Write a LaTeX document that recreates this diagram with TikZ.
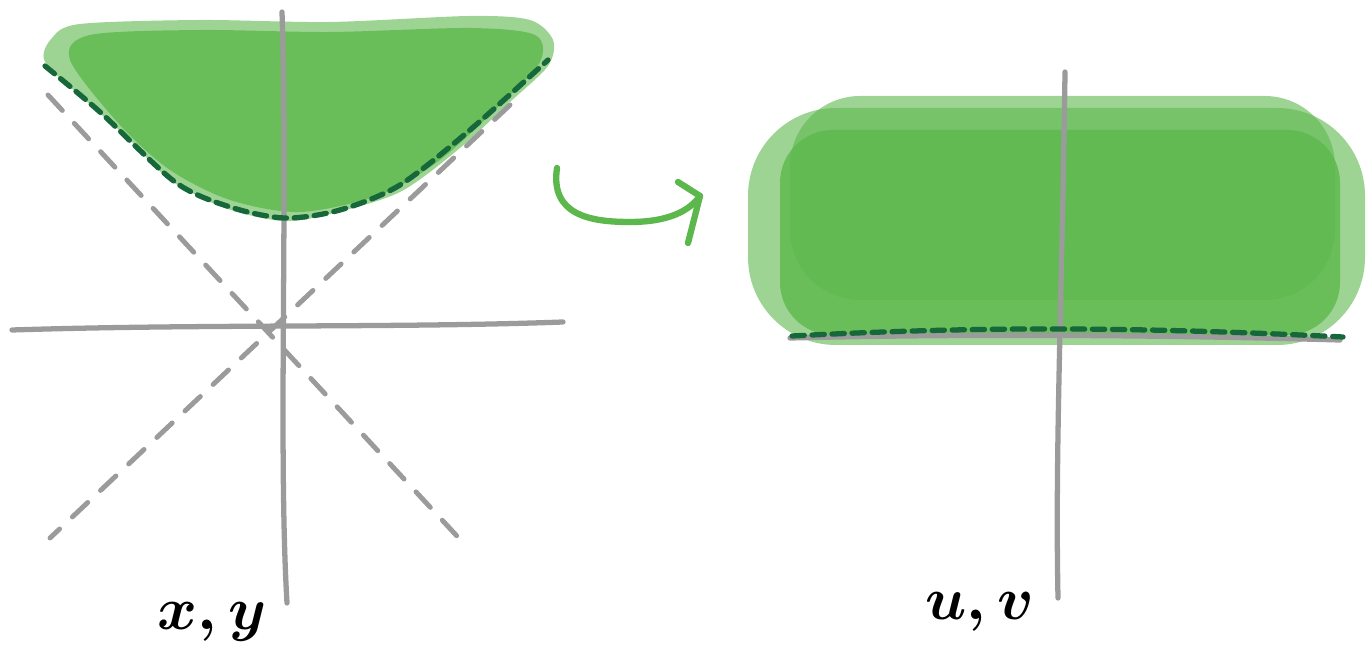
\documentclass[tikz,border=0pt]{standalone}
\usepackage{tikz}
\usetikzlibrary{arrows.meta,positioning,calc}
\definecolor{sleaf}{HTML}{5CB84C}
\definecolor{sdeep}{HTML}{16673A}
\definecolor{sgray}{HTML}{9B9B9B}
\tikzset{
  axis/.style={draw=sgray,line width=1.5pt,line cap=round},
  asym/.style={draw=sgray,line width=1.4pt,line cap=round,dash pattern=on 6pt off 5pt},
  bound/.style={draw=sdeep,line width=1.5pt,line cap=round,dash pattern=on 3.5pt off 2.2pt},
  wash/.style={fill=sleaf,fill opacity=0.6},
  core/.style={fill=sleaf,fill opacity=0.8},
  swoop/.style={draw=sleaf,line width=1.8pt,line cap=round,line join=round},
  hand/.style={font=\fontsize{19}{22}\selectfont\boldmath,text=black,inner sep=0pt},
}
\begin{document}
\begin{tikzpicture}[x=0.1mm,y=-0.1mm]
  \useasboundingbox (0,0) rectangle (1367,670);
  % left: region above the hyperbola
  \fill[wash] plot[smooth cycle] coordinates {(45,62) (52,38) (80,24) (200,20) (330,22) (470,16) (530,20) (553,40) (548,66) (510,102) (460,148) (400,192) (330,214) (283,221) (225,208) (170,180) (130,140) (85,100)};
  \fill[core] plot[smooth cycle] coordinates {(70,60) (90,35) (200,30) (330,32) (470,28) (535,35) (540,62) (500,105) (440,160) (380,195) (300,212) (230,200) (170,170) (120,125)};
  % asymptotes
  \draw[asym] (48,95) -- (468,548);
  \draw[asym] (510,105) -- (50,538);
  % axes
  \draw[axis] (12,330) .. controls (200,324) and (400,328) .. (563,322);
  \draw[axis] (282,12) .. controls (288,200) and (278,450) .. (287,603);
  \draw[bound] plot[smooth] coordinates {(45,66) (100,112) (175,182) (230,207) (285,218) (340,210) (400,185) (470,130) (548,60)};
  % arrow
  \coordinate (arrS) at (557,168);
  \coordinate (arrE) at (700,196);
  \draw[swoop] (arrS) .. controls (550,215) and (590,222) .. (630,222) .. controls (670,222) and (690,210) .. (arrE);
  \draw[swoop] (678,182) -- (arrE) -- (688,243);
  % right: the strip
  \fill[wash,rounded corners=25pt] (748,108) rectangle (1365,345);
  \fill[wash,rounded corners=20pt] (790,96) rectangle (1335,300);
  \fill[core,rounded corners=15pt] (780,130) rectangle (1340,335);
  \draw[axis] (790,338) .. controls (1000,333) and (1200,336) .. (1340,340);
  \draw[axis] (1065,72) .. controls (1062,300) and (1055,450) .. (1058,598);
  \draw[bound] (792,336) .. controls (950,328) and (1100,325) .. (1343,337);
  % labels
  \node[hand] (xy) at (212,622) {$x,y$};
  \node[hand] (uv) at (980,612) {$u,v$};
\end{tikzpicture}
\end{document}
